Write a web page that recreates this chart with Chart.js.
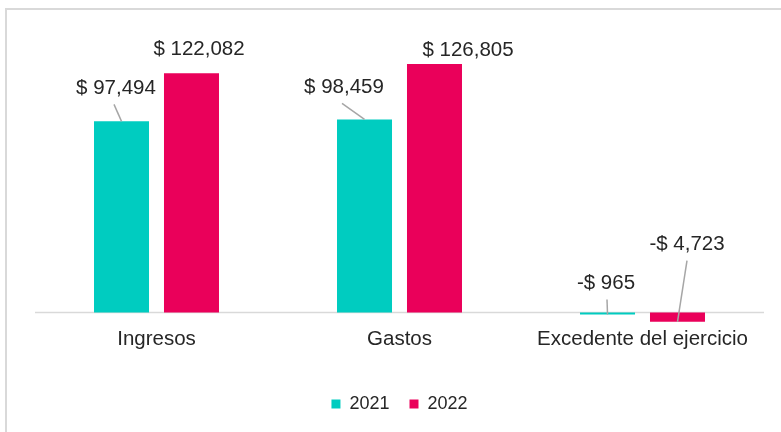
<!DOCTYPE html>
<html>
<head>
<meta charset="utf-8">
<script src="https://cdn.jsdelivr.net/npm/chart.js@4"></script>
<style>
  html, body { margin: 0; padding: 0; background: #fff; overflow: hidden; }
  #frame {
    position: absolute; left: 5px; top: 8px;
    width: 820px; height: 460px;
    border: 2px solid #d9d9d9;
  }
  #wrap { position: absolute; left: 0; top: 0; width: 781px; height: 432px; }
</style>
</head>
<body>
<div id="frame"></div>
<div id="wrap"><canvas id="resultChart"></canvas></div>
<script>
// datos
const categorias = ['Ingresos', 'Gastos', 'Excedente del ejercicio'];
const valores2021 = [97494, 98459, -965];
const valores2022 = [122082, 126805, -4723];
const etiquetas2021 = ['$ 97,494', '$ 98,459', '-$ 965'];
const etiquetas2022 = ['$ 122,082', '$ 126,805', '-$ 4,723'];

// label placement relative to bar end: [dx, dy, leader line, leader dx]
const pos2021 = [[-5.5, -33, true, -2], [-20.5, -32, true, -2], [-1.5, -29, true, 1]];
const pos2022 = [[7.5, -24, false, 0], [33.5, -14, false, 0], [9.5, -68, true, 0]];

const textColor = '#262626';
const fontFamily = '"Liberation Sans", Arial, sans-serif';

// zero line under the bars
const baseLine = {
    id: 'baseLine',
    beforeDatasetsDraw(chart) {
        const ctx = chart.ctx;
        const y = chart.scales.y.getPixelForValue(0);
        ctx.save();
        ctx.strokeStyle = '#d9d9d9';
        ctx.lineWidth = 1.5;
        ctx.beginPath();
        ctx.moveTo(chart.chartArea.left, y);
        ctx.lineTo(chart.chartArea.right, y);
        ctx.stroke();
        ctx.restore();
    }
};

// value labels with leader lines
const valueLabels = {
    id: 'valueLabels',
    afterDatasetsDraw(chart) {
        const ctx = chart.ctx;
        const all = [etiquetas2021, etiquetas2022];
        const pos = [pos2021, pos2022];
        ctx.save();
        ctx.font = '20.5px ' + fontFamily;
        ctx.textAlign = 'center';
        ctx.textBaseline = 'middle';
        chart.data.datasets.forEach((ds, d) => {
            chart.getDatasetMeta(d).data.forEach((bar, i) => {
                const p = pos[d][i];
                const top = Math.min(bar.y, bar.base);
                const lx = bar.x + p[0];
                const ly = top + p[1];
                if (p[2]) {
                    ctx.strokeStyle = '#a6a6a6';
                    ctx.lineWidth = 1.5;
                    ctx.beginPath();
                    ctx.moveTo(lx + p[3], ly + 16);
                    ctx.lineTo(bar.x, bar.y);
                    ctx.stroke();
                }
                ctx.fillStyle = textColor;
                ctx.fillText(all[d][i], lx, ly);
            });
        });
        ctx.restore();
    }
};

const ctx = document.getElementById('resultChart').getContext('2d');
const resultChart = new Chart(ctx, {
    type: 'bar',
    data: {
        labels: categorias,
        datasets: [{
            label: '2021',
            data: valores2021,
            backgroundColor: '#00ccc0'
        }, {
            label: '2022',
            data: valores2022,
            backgroundColor: '#ea005a'
        }]
    },
    options: {
        responsive: true,
        maintainAspectRatio: false,
        animation: false,
        categoryPercentage: 0.576,
        barPercentage: 0.786,
        layout: {
            padding: { left: 35, right: 17, top: 38, bottom: 9 }
        },
        scales: {
            x: {
                grid: { display: false, drawTicks: false },
                border: { display: false },
                ticks: {
                    color: textColor,
                    padding: 5,
                    font: { family: fontFamily, size: 20.5 }
                },
                afterFit(scale) {
                    scale.height += 18;
                }
            },
            y: {
                display: false,
                min: -5000,
                max: 140000
            }
        },
        plugins: {
            legend: {
                position: 'bottom',
                labels: {
                    boxWidth: 9,
                    boxHeight: 9,
                    padding: 20,
                    color: textColor,
                    font: { family: fontFamily, size: 18 }
                }
            },
            tooltip: { enabled: false }
        }
    },
    plugins: [baseLine, valueLabels]
});
</script>
</body>
</html>
